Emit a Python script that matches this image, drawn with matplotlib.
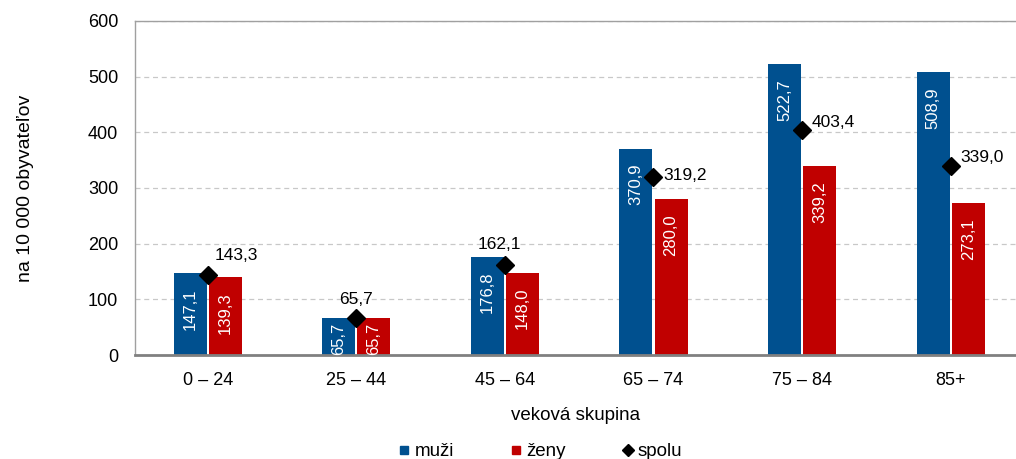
import matplotlib.pyplot as plt
from matplotlib.lines import Line2D
import numpy as np

plt.rcParams['font.family'] = ['Liberation Sans', 'DejaVu Sans']

skupiny = ['0 – 24', '25 – 44', '45 – 64', '65 – 74', '75 – 84', '85+']
muzi = [147.1, 65.7, 176.8, 370.9, 522.7, 508.9]
zeny = [139.3, 65.7, 148.0, 280.0, 339.2, 273.1]
spolu = [143.3, 65.7, 162.1, 319.2, 403.4, 339.0]

# posun popisov pre "spolu" (v bodoch)
posun_spolu = [(5, 9), (0, 8), (-4, 9), (7, 1), (7, 6), (7, 6)]

modra = '#00508F'
cervena = '#C00000'


def cislo(v):
    return f'{v:.1f}'.replace('.', ',')


fig = plt.figure(figsize=(10.16, 4.59), dpi=100)
ax = fig.add_axes([135 / 1016, 1 - 355 / 459, 1 - 135 / 1016, (355 - 21) / 459])

x = np.arange(len(skupiny))
w = 0.222
d = 0.118

ax.bar(x - d, muzi, w, color=modra, zorder=2)
ax.bar(x + d, zeny, w, color=cervena, zorder=2)
ax.plot(x, spolu, linestyle='none', marker='D', color='black', markersize=9, zorder=4)

for i in range(len(x)):
    for xx, v in ((x[i] - d, muzi[i]), (x[i] + d, zeny[i])):
        off = -11 if v > 100 else -3
        ax.annotate(cislo(v), (xx, v), xytext=(0, off), textcoords='offset points',
                    rotation=90, ha='center', va='top', color='white', fontsize=12, zorder=5)
    dx, dy = posun_spolu[i]
    ax.annotate(cislo(spolu[i]), (x[i], spolu[i]), xytext=(dx, dy), textcoords='offset points',
                ha='left' if dx > 0 else 'center', va='bottom' if dy > 7 else 'center',
                fontsize=12.5, zorder=5)

ax.set_xlim(-0.49, 5.44)
ax.set_ylim(0, 600)
ax.set_yticks(range(0, 601, 100))
ax.set_xticks(x)
ax.set_xticklabels(skupiny)
ax.tick_params(axis='both', length=0, labelsize=13)
ax.tick_params(axis='y', pad=12)
ax.tick_params(axis='x', pad=12)
ax.yaxis.grid(True, linestyle=(0, (4, 3)), color='#c8c8c8', linewidth=0.9, zorder=0)
ax.set_axisbelow(True)

for s in ['left', 'top']:
    ax.spines[s].set_color('#a0a0a0')
    ax.spines[s].set_linewidth(1)
ax.spines['right'].set_visible(False)
ax.spines['bottom'].set_color('#808080')
ax.spines['bottom'].set_linewidth(2)

ax.set_xlabel('veková skupina', fontsize=13.5, labelpad=13)
ax.set_ylabel('na 10 000 obyvateľov', fontsize=14, labelpad=39)

handles = [
    Line2D([], [], linestyle='none', marker='s', color=modra, markersize=6),
    Line2D([], [], linestyle='none', marker='s', color=cervena, markersize=6),
    Line2D([], [], linestyle='none', marker='D', color='black', markersize=6),
]
fig.legend(handles, ['muži', 'ženy', 'spolu'], loc='lower center', bbox_to_anchor=(0.532, -0.04),
           ncol=3, frameon=False, fontsize=13.5, handlelength=0.6, handletextpad=0.25,
           columnspacing=3.0)

fig.savefig('out.png', dpi=100)
